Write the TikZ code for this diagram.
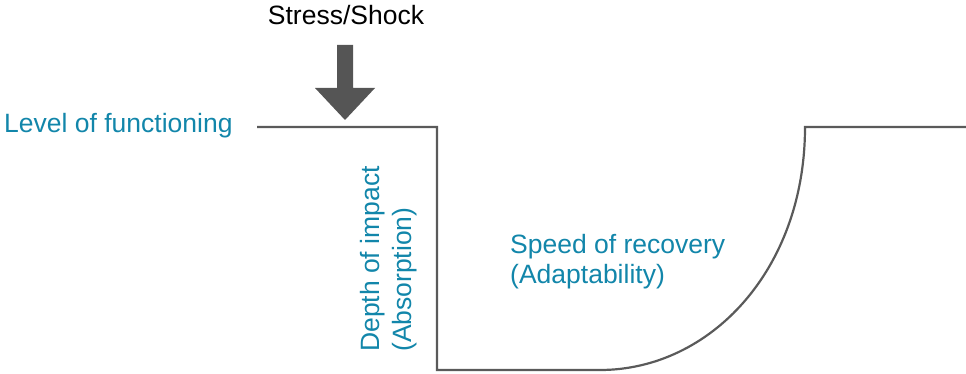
\documentclass[tikz,border=0pt]{standalone}
\usepackage{fontspec}
\setmainfont{Liberation Sans}
\definecolor{lineg}{RGB}{90,90,90}
\definecolor{arrowg}{RGB}{85,85,85}
\definecolor{tblue}{RGB}{18,134,170}
\begin{document}
\begin{tikzpicture}[x=1pt,y=-1pt,
  lbl/.style={inner sep=0pt,font=\fontsize{26.5}{30}\selectfont,text=tblue},
  blk/.style={inner sep=0pt,font=\fontsize{26.5}{30}\selectfont,text=black},
  curveline/.style={draw=lineg,line width=2.2pt,line join=miter}]
\useasboundingbox (0,0) rectangle (966,374);
% labels
\node[blk,anchor=base] (stress) at (346,25) {Stress/Shock};
\node[lbl,anchor=base west] (level) at (4,133) {Level of functioning};
\node[lbl,anchor=base west,rotate=90] (depth1) at (379,352) {Depth of impact};
\node[lbl,anchor=base west,rotate=90] (depth2) at (411,352) {(Absorption)};
\node[lbl,anchor=base west] (speed1) at (510,253) {Speed of recovery};
\node[lbl,anchor=base west] (speed2) at (510,283) {(Adaptability)};
% coordinates of the functioning curve
\coordinate (a) at (257,127);
\coordinate (b) at (437,127);
\coordinate (c) at (437,370);
\coordinate (d) at (600,370);
\coordinate (e) at (805,127);
\coordinate (f) at (966,127);
\draw[curveline] (a) -- (b) -- (c) -- (d) .. controls (710,370) and (805,270) .. (e) -- (f);
% shock arrow
\fill[arrowg] (337,45) -- (353,45) -- (353,88) -- (375,88) -- (345,120) -- (315,88) -- (337,88) -- cycle;
\end{tikzpicture}
\end{document}
